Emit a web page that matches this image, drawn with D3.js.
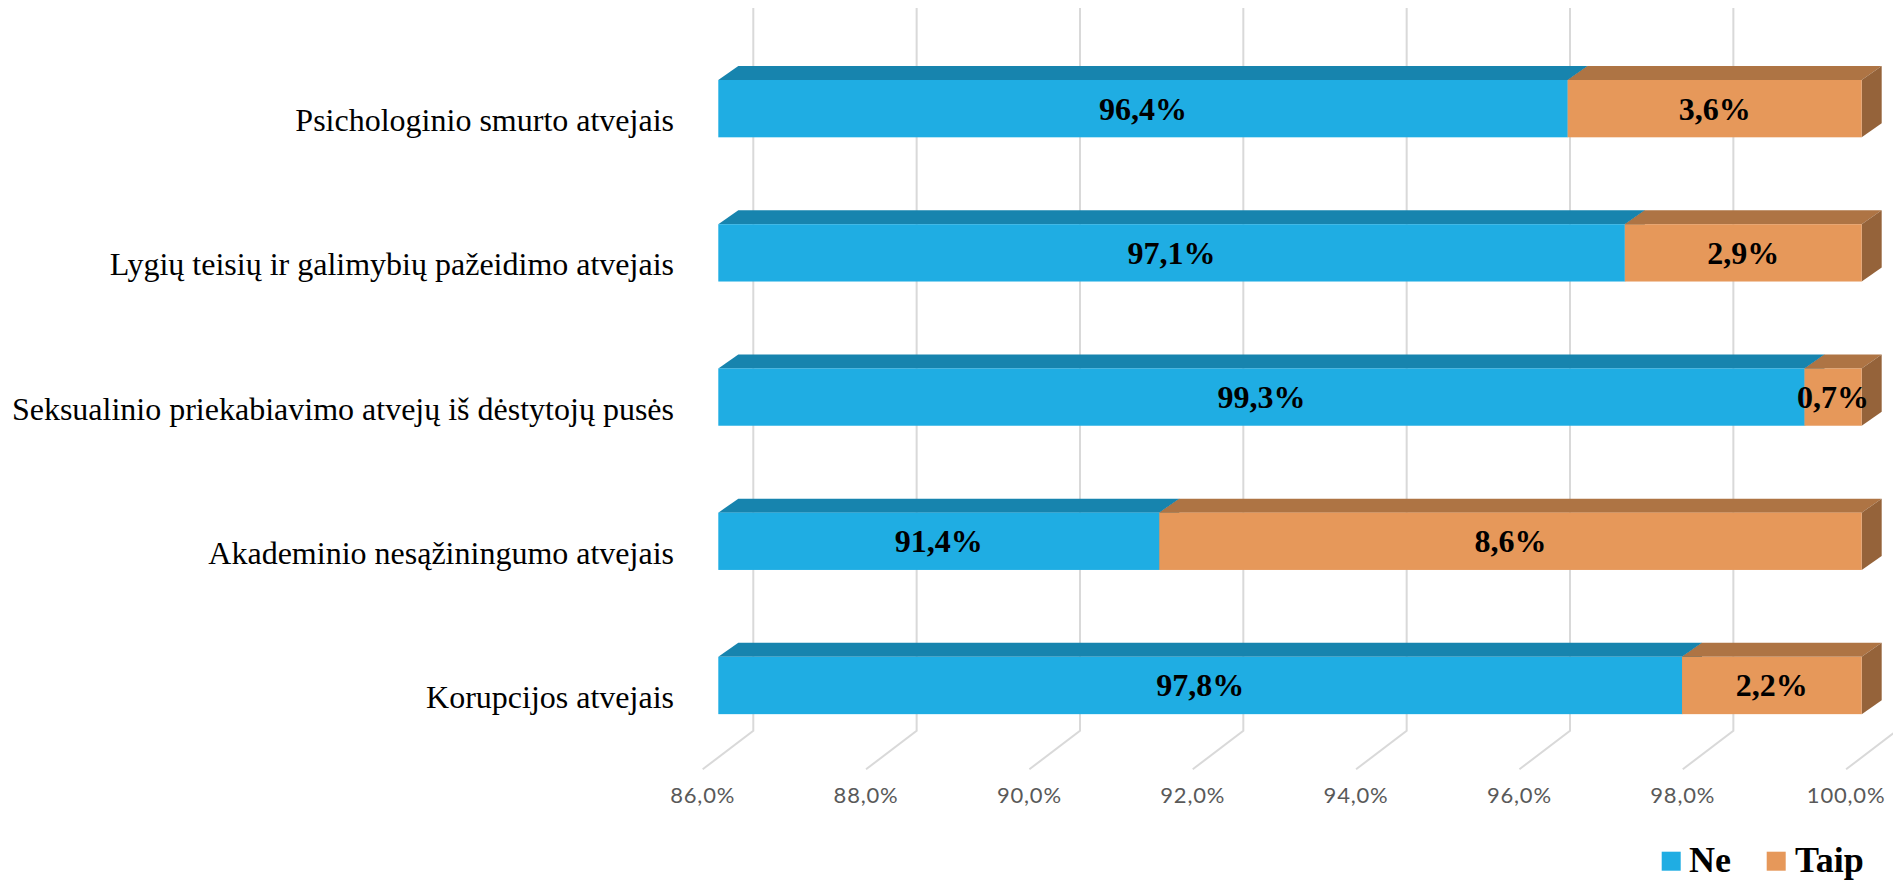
<!DOCTYPE html>
<html>
<head>
<meta charset="utf-8">
<script src="https://cdn.jsdelivr.net/npm/d3@7"></script>
<style>
  html, body { margin: 0; padding: 0; background: #ffffff; }
  svg { display: block; }
</style>
</head>
<body>
<svg id="chart" width="1893" height="881"></svg>
<script>
// ---- data ----
const categories = [
  "Psichologinio smurto atvejais",
  "Lygių teisių ir galimybių pažeidimo atvejais",
  "Seksualinio priekabiavimo atvejų iš dėstytojų pusės",
  "Akademinio nesąžiningumo atvejais",
  "Korupcijos atvejais"
];
const seriesNames = ["Ne", "Taip"];
const neValues   = [96.4, 97.1, 99.3, 91.4, 97.8];
const taipValues = [3.6, 2.9, 0.7, 8.6, 2.2];
const tickValues = [86, 88, 90, 92, 94, 96, 98, 100];
const axisDomain = [86, 100];

// ---- styles ----
const frontColors = { "Ne": "#1fade3", "Taip": "#e6985a" };
const topColors   = { "Ne": "#1784ae", "Taip": "#ae7444" };
const sideColors  = { "Ne": "#146f93", "Taip": "#95633a" };

const svg = d3.select("#chart");
svg.append("rect").attr("width", 1893).attr("height", 881).attr("fill", "#ffffff");

// scales (front plane of the bars)
const x = d3.scaleLinear().domain(axisDomain).range([718.3, 1861.7]).clamp(true);
const y = d3.scaleBand().domain(categories).range([36.55, 757.6])
  .paddingInner(0.6026).paddingOuter(0.3013);

// 3D depth offsets
const depthDX = 20, depthDY = 14;      // bar depth
const floorFrontDX = -15.6, floorFrontY = 769.3;  // floor front edge
const wallDX = 35.0, wallBottomY = 730.7;          // back wall
const gridTopY = 8;

const rows = categories.map((c, i) => ({ category: c, Ne: neValues[i], Taip: taipValues[i] }));
const stacked = d3.stack().keys(seriesNames)(rows);

// ---- gridlines (back wall + floor) ----
const grid = svg.append("g").attr("class", "grid");
grid.selectAll("path").data(tickValues).join("path")
  .attr("d", v => {
    const bx = x(v) + wallDX, fx = x(v) + floorFrontDX;
    return `M${bx},${gridTopY} L${bx},${wallBottomY} L${fx},${floorFrontY}`;
  })
  .attr("fill", "none").attr("stroke", "#d9d9d9").attr("stroke-width", 2);

// tick labels
const fmt = v => d3.format(".1f")(v).replace(".", ",") + "%";
svg.append("g").selectAll("text").data(tickValues).join("text")
  .attr("x", v => x(v) + floorFrontDX)
  .attr("y", 802.7)
  .attr("text-anchor", "middle")
  .attr("font-family", "Lato, 'Open Sans', sans-serif")
  .attr("font-weight", 400)
  .attr("font-size", 22)
  .attr("letter-spacing", 0.8)
  .attr("fill", "#595959")
  .text(fmt);

// ---- bars ----
const bars = svg.append("g").attr("class", "bars");
stacked.forEach(series => {
  const key = series.key;
  const g = bars.append("g");
  series.forEach((d, i) => {
    const x0 = x(d[0]), x1 = x(d[1]);
    const yt = y(categories[i]), h = y.bandwidth(), yb = yt + h;
    // top face
    g.append("path")
      .attr("d", `M${x0},${yt} L${x0 + depthDX},${yt - depthDY} L${x1 + depthDX},${yt - depthDY} L${x1},${yt} Z`)
      .attr("fill", topColors[key]);
    // side face
    g.append("path")
      .attr("d", `M${x1},${yt} L${x1 + depthDX},${yt - depthDY} L${x1 + depthDX},${yb - depthDY} L${x1},${yb} Z`)
      .attr("fill", sideColors[key]);
    // front face
    g.append("rect")
      .attr("x", x0).attr("y", yt).attr("width", x1 - x0).attr("height", h)
      .attr("fill", frontColors[key]);
  });
});

// data labels
const labels = svg.append("g");
stacked.forEach(series => {
  series.forEach((d, i) => {
    const x0 = x(d[0]), x1 = x(d[1]);
    const cy = y(categories[i]) + y.bandwidth() / 2;
    const val = d[1] - d[0];
    labels.append("text")
      .attr("x", (x0 + x1) / 2)
      .attr("y", cy + 11)
      .attr("text-anchor", "middle")
      .attr("font-family", "'Liberation Serif', 'Times New Roman', serif")
      .attr("font-weight", "bold")
      .attr("font-size", 32)
      .attr("fill", "#000000")
      .text(fmt(val));
  });
});

// category labels
svg.append("g").selectAll("text").data(categories).join("text")
  .attr("x", 674)
  .attr("y", c => y(c) + y.bandwidth() / 2 + 22.5)
  .attr("text-anchor", "end")
  .attr("font-family", "'Liberation Serif', 'Times New Roman', serif")
  .attr("font-size", 32)
  .attr("fill", "#000000")
  .text(c => c);

// ---- legend ----
const legendPos = [{ sx: 1661.7, tx: 1689 }, { sx: 1766.7, tx: 1795 }];
const legend = svg.append("g");
seriesNames.forEach((name, i) => {
  legend.append("rect")
    .attr("x", legendPos[i].sx).attr("y", 851.7).attr("width", 19).attr("height", 19)
    .attr("fill", frontColors[name]);
  legend.append("text")
    .attr("x", legendPos[i].tx).attr("y", 872)
    .attr("font-family", "'Liberation Serif', 'Times New Roman', serif")
    .attr("font-weight", "bold").attr("font-size", 36)
    .attr("fill", "#000000")
    .text(name);
});
</script>
</body>
</html>
